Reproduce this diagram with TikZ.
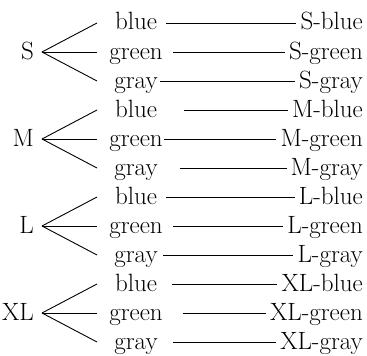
\documentclass[tikz,border=0pt]{standalone}
\usepackage{fontspec}
\begin{document}
\begin{tikzpicture}[x=1pt,y=-1pt,
  every node/.style={font=\fontsize{25}{30}\selectfont},
  word/.style={inner sep=0pt,anchor=base},
  parent/.style={inner sep=0pt,anchor=base east},
  result/.style={inner sep=0pt,anchor=base east},
  link/.style={line width=0.9pt}]
\useasboundingbox (0,0) rectangle (367,356);
\foreach \P/\ga/\gb/\gc [count=\k from 0] in {S/9/10/2,M/27/1/22,L/9/10/5,XL/15/20/15}{
  \pgfmathsetmacro\ya{23+87*\k}
  \pgfmathsetmacro\yb{\ya+29}
  \pgfmathsetmacro\yc{\ya+58}
  \node[parent] (p\k) at (34,\yb+7) {\P};
  \coordinate (apex\k) at (42,\yb);
  \foreach \c/\y/\g [count=\j] in {blue/\ya/\ga,green/\yb/\gb,gray/\yc/\gc}{
    \node[word] (w\k\j) at (136,\y+7) {\c};
    \node[result] (r\k\j) at (363,\y+7) {\P-\c};
    \coordinate (e\k\j) at (97,\y);
    \draw[link] (apex\k) -- (e\k\j);
    \draw[link] ([shift={(\g pt,7pt)}]w\k\j.base east) -- ([shift={(-4pt,7pt)}]r\k\j.base west);
  }
}
\end{tikzpicture}
\end{document}
